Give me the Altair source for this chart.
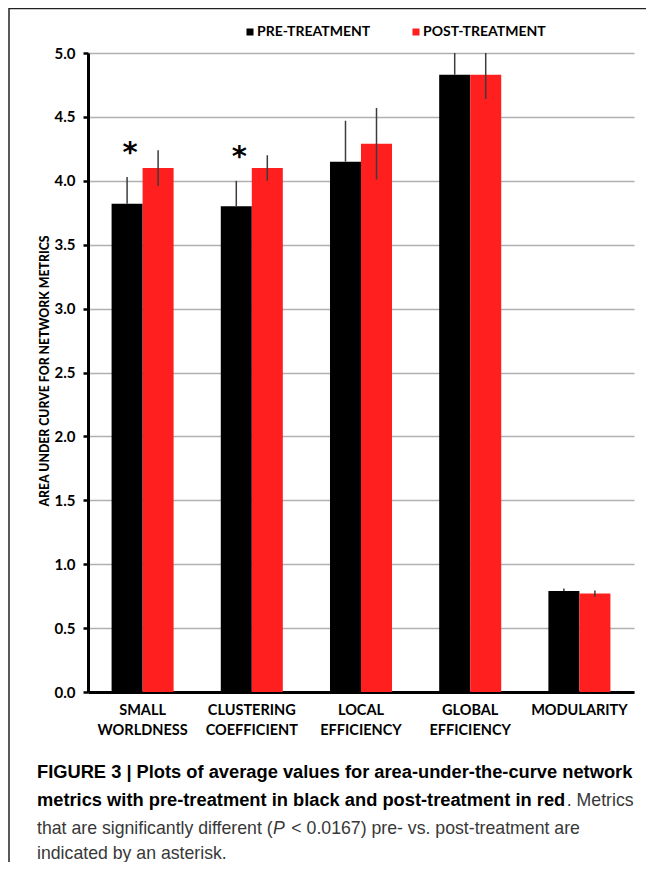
import altair as alt
import pandas as pd

categories = ["SMALL WORLDNESS", "CLUSTERING COEFFICIENT", "LOCAL EFFICIENCY",
              "GLOBAL EFFICIENCY", "MODULARITY"]
series = ["PRE-TREATMENT", "POST-TREATMENT"]
pre_values = [3.82, 3.80, 4.15, 4.83, 0.79]
pre_errors = [0.21, 0.20, 0.32, 0.19, 0.02]
post_values = [4.10, 4.10, 4.29, 4.83, 0.77]
post_errors = [0.14, 0.10, 0.28, 0.19, 0.025]
significant = [True, True, False, False, False]
colors = ["#000000", "#ff1f1f"]
y_ticks = [0.0, 0.5, 1.0, 1.5, 2.0, 2.5, 3.0, 3.5, 4.0, 4.5, 5.0]
y_title = "AREA UNDER CURVE FOR NETWORK METRICS"

caption_line1 = "FIGURE 3 | Plots of average values for area-under-the-curve network"
caption_line2_bold = "metrics with pre-treatment in black and post-treatment in red"
caption_line2_rest = ". Metrics"
caption_line3_a = "that are significantly different ("
caption_line3_p = "P"
caption_line3_b = "< 0.0167) pre- vs. post-treatment are"
caption_line4 = "indicated by an asterisk."

rows = []
for i, c in enumerate(categories):
    # pre-treatment whisker only visible above the black bar
    rows.append(dict(metric=c, series=series[0], value=pre_values[i],
                     lo=pre_values[i], hi=pre_values[i] + pre_errors[i],
                     sig=significant[i]))
    rows.append(dict(metric=c, series=series[1], value=post_values[i],
                     lo=post_values[i] - post_errors[i], hi=post_values[i] + post_errors[i],
                     sig=False))
df = pd.DataFrame(rows)

W, H = 546, 639
LAB_FONT = "Lato"

x_enc = alt.X("metric:N", sort=categories,
              scale=alt.Scale(paddingInner=0.432, paddingOuter=0.216),
              axis=alt.Axis(title=None, labelAngle=0, labelExpr="split(datum.label, ' ')",
                            ticks=False, domainColor="black", domainWidth=3, grid=False,
                            labelFont=LAB_FONT, labelFontWeight="bold", labelFontSize=14.5,
                            labelColor="black", labelPadding=11, labelLineHeight=20))
xo_enc = alt.XOffset("series:N", sort=series, scale=alt.Scale(domain=series))

bars = alt.Chart(df).mark_bar().encode(
    x=x_enc,
    xOffset=xo_enc,
    y=alt.Y("value:Q", scale=alt.Scale(domain=[0, 5]),
            axis=alt.Axis(values=y_ticks, format=".1f", title=y_title,
                          labelFont=LAB_FONT, labelFontWeight="bold", labelFontSize=15,
                          labelColor="black", labelPadding=8,
                          tickSize=5, tickWidth=2.5, tickColor="black",
                          domainColor="black", domainWidth=3,
                          gridColor="#b0b0b0", gridWidth=1.5,
                          titleFont=LAB_FONT, titleFontWeight=900, titleFontSize=12.3,
                          titleColor="black", titleAngle=270, titleX=-44, titleY=H / 2 - 2,
                          titleBaseline="middle", titleAlign="center")),
    color=alt.Color("series:N", scale=alt.Scale(domain=series, range=colors),
                    legend=alt.Legend(orient="none", legendX=155, legendY=-28,
                                      direction="horizontal", title=None,
                                      symbolType="square", symbolSize=49,
                                      symbolStrokeWidth=0,
                                      labelFont=LAB_FONT, labelFontWeight="bold",
                                      labelFontSize=14, labelColor="black",
                                      labelOffset=0, columnPadding=38)),
)

errs = alt.Chart(df).mark_rule(color="#3c3c3c", strokeWidth=1.5, clip=True).encode(
    x=alt.X("metric:N", sort=categories),
    xOffset=xo_enc,
    y=alt.Y("lo:Q", title=y_title),
    y2="hi:Q",
)

stars = alt.Chart(df).transform_filter("datum.sig").mark_text(
    text="*", font="DejaVu Sans", fontWeight="bold", fontSize=29,
    dy=-15, dx=3, baseline="alphabetic", color="black"
).encode(
    x=alt.X("metric:N", sort=categories),
    xOffset=xo_enc,
    y=alt.Y("hi:Q", title=y_title),
)

one = pd.DataFrame({"k": [0]})
CAP_FONT = "Liberation Sans"
BOLD_SIZE = 18.3
REG_SIZE = 17.7
X0 = -51
REG_COLOR = "#383838"


def cap(text, x, y, bold=False, italic=False, size=REG_SIZE, color=REG_COLOR):
    return alt.Chart(one).mark_text(
        text=text, font=CAP_FONT, fontSize=size,
        fontWeight="bold" if bold else "normal",
        fontStyle="italic" if italic else "normal",
        align="left", baseline="alphabetic", color=color,
    ).encode(x=alt.value(x), y=alt.value(y))


line2_bold_w = 28.895 * BOLD_SIZE
p_x = X0 + 13.339 * REG_SIZE
after_p_x = p_x + (0.667 + 0.278) * REG_SIZE + 1.5

captions = [
    cap(caption_line1, X0, 725, bold=True, size=BOLD_SIZE, color="black"),
    cap(caption_line2_bold, X0, 753, bold=True, size=BOLD_SIZE, color="black"),
    cap(caption_line2_rest, X0 + line2_bold_w + 1, 753),
    cap(caption_line3_a, X0, 781),
    cap(caption_line3_p, p_x, 781, italic=True),
    cap(caption_line3_b, after_p_x, 781),
    cap(caption_line4, X0, 806),
]

frame_top = alt.Chart(one).mark_rule(color="#222222", strokeWidth=1.5).encode(
    x=alt.value(-79), x2=alt.value(562), y=alt.value(-44.5))
frame_left = alt.Chart(one).mark_rule(color="#222222", strokeWidth=1.5).encode(
    x=alt.value(-79), y=alt.value(-45), y2=alt.value(H + 172))

chart = alt.layer(bars, errs, stars, *captions, frame_top, frame_left).properties(
    width=W, height=H,
    autosize=alt.AutoSizeParams(type="none"),
    padding={"left": 80, "top": 45, "right": 12, "bottom": 170},
).configure_view(stroke=None)

chart.save("out.html", embed_options={"renderer": "svg", "actions": False})
